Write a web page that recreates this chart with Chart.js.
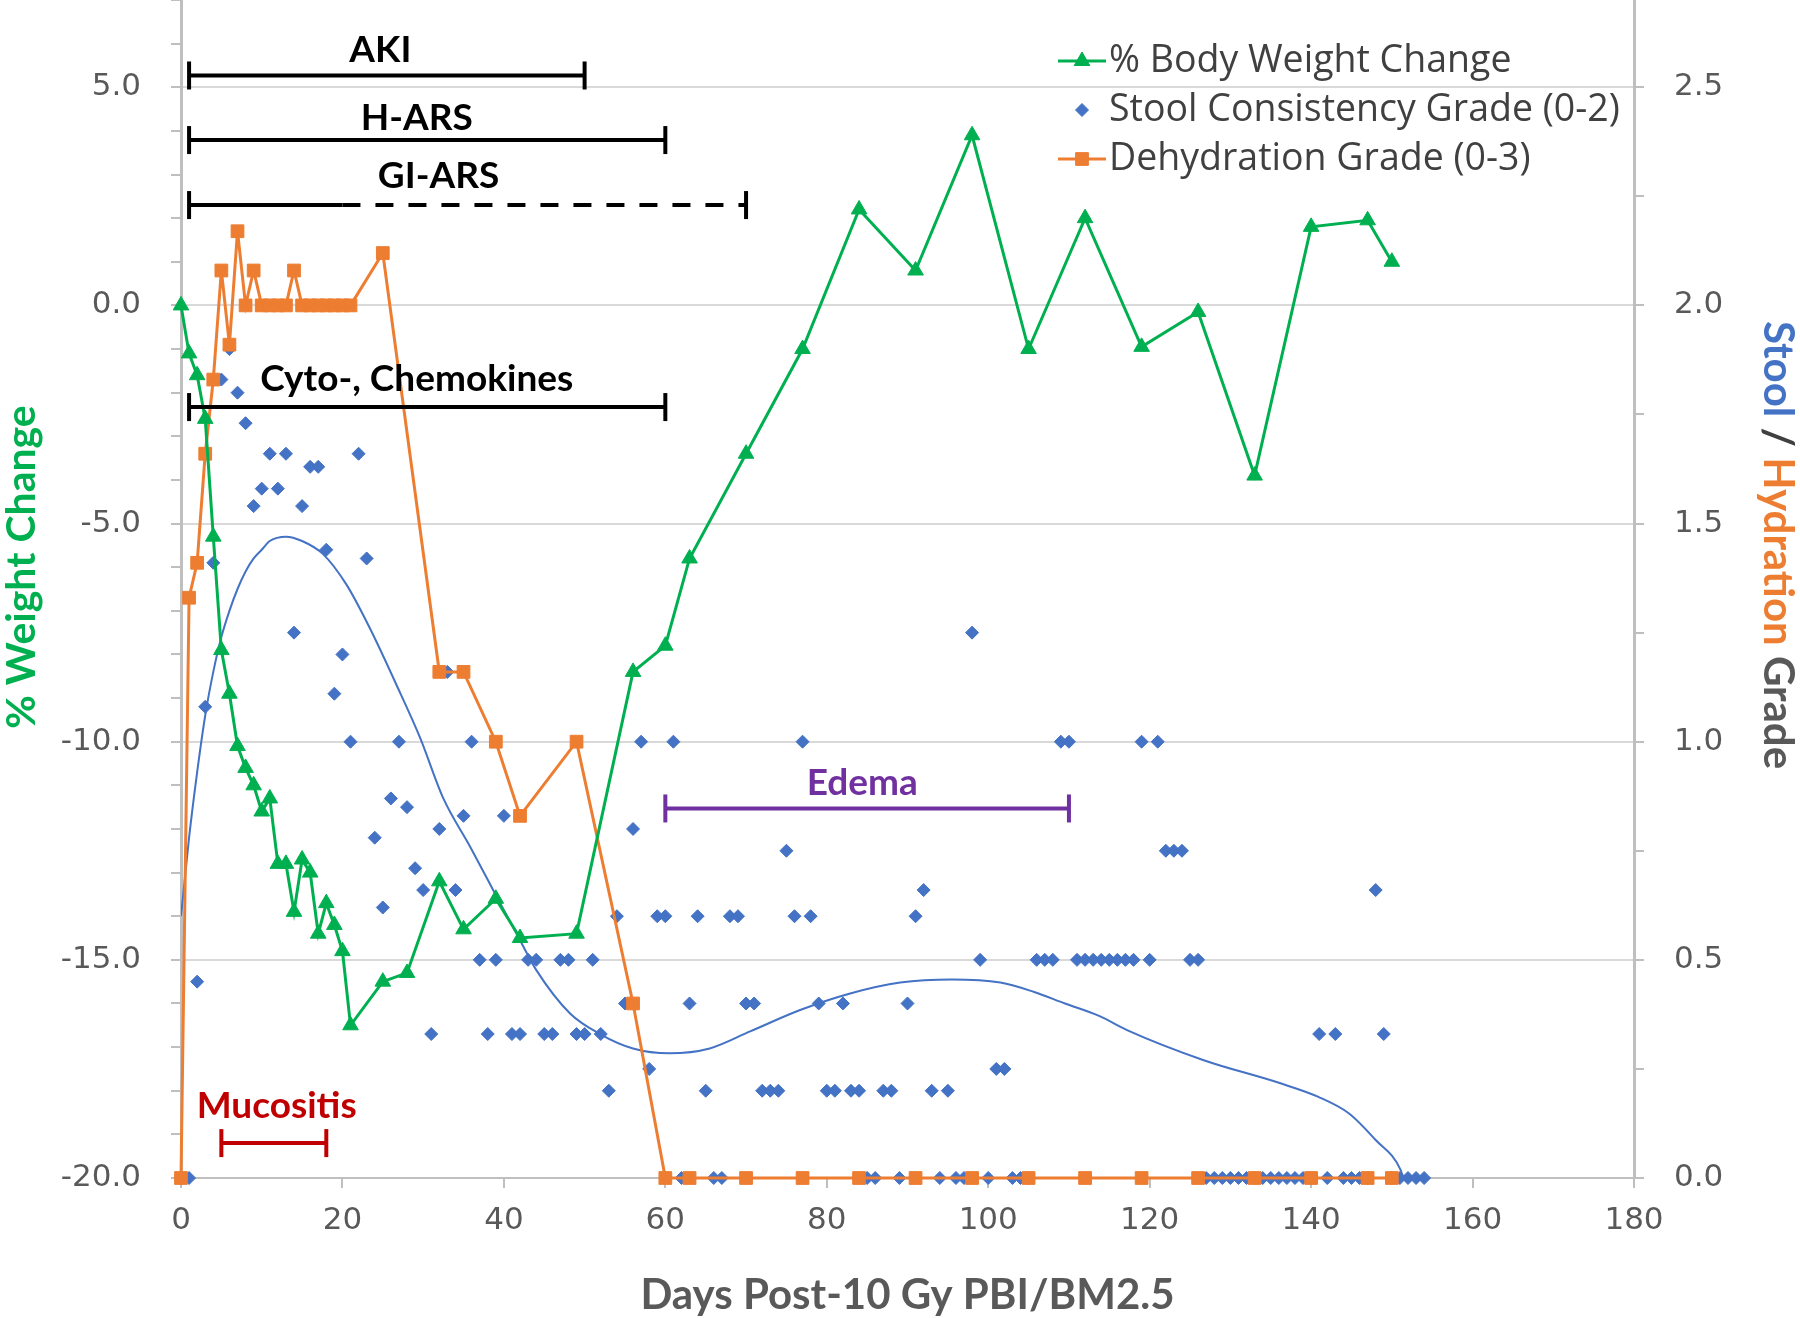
<!DOCTYPE html>
<html>
<head>
<meta charset="utf-8">
<title>Body weight, stool and hydration after 10 Gy PBI/BM2.5</title>
<script src="https://cdn.jsdelivr.net/npm/chart.js@4.4.1/dist/chart.umd.min.js"></script>
<style>
  html, body { margin: 0; padding: 0; background: #ffffff; }
  #appChart { width: 1800px; height: 1318px; position: relative; }
</style>
</head>
<body>
<div id="appChart"><canvas id="myChart"></canvas></div>
<script>
// ---- values ----

// % body weight change (left axis)
const weightDays = [0, 1, 2, 3, 4, 5, 6, 7, 8, 9, 10, 11, 12, 13, 14, 15, 16, 17, 18, 19, 20, 21,
    25, 28, 32, 35, 39, 42, 49, 56, 60, 63, 70, 77, 84, 91, 98, 105, 112, 119, 126, 133, 140, 147, 150];
const weightChange = [0, -1.1, -1.6, -2.6, -5.3, -7.9, -8.9, -10.1, -10.6, -11.0, -11.6, -11.3, -12.8, -12.8, -13.9, -12.7, -13.0, -14.4, -13.7, -14.2, -14.8, -16.5,
    -15.5, -15.3, -13.2, -14.3, -13.6, -14.5, -14.4, -8.4, -7.8, -5.8, -3.4, -1.0, 2.2, 0.8, 3.9, -1.0, 2.0, -0.95, -0.15, -3.9, 1.8, 1.95, 1.0];

// dehydration grade (right axis)
const dehydDays = [0, 1, 2, 3, 4, 5, 6, 7, 8, 9, 10, 11, 12, 13, 14, 15, 16, 17, 18, 19, 20, 21,
    25, 32, 35, 39, 42, 49, 56, 60, 63, 70, 77, 84, 91, 98, 105, 112, 119, 126, 133, 140, 147, 150];
const dehydGrade = [0, 1.33, 1.41, 1.66, 1.83, 2.08, 1.91, 2.17, 2.0, 2.08, 2.0, 2.0, 2.0, 2.0, 2.08, 2.0, 2.0, 2.0, 2.0, 2.0, 2.0, 2.0,
    2.12, 1.16, 1.16, 1.0, 0.83, 1.0, 0.4, 0, 0, 0, 0, 0, 0, 0, 0, 0, 0, 0, 0, 0, 0, 0];

// stool consistency grade, one value per day, first entry = day 0 (right axis)
const stoolGrade = [
    0, 0, 0.45, 1.08, 1.41, 1.83, 1.90, 1.80, 1.73, 1.54,          // 0-9
    1.58, 1.66, 1.58, 1.66, 1.25, 1.54, 1.63, 1.63, 1.44, 1.11,    // 10-19
    1.20, 1.00, 1.66, 1.42, 0.78, 0.62, 0.87, 1.00, 0.85, 0.71,    // 20-29
    0.66, 0.33, 0.80, 1.16, 0.66, 0.83, 1.00, 0.50, 0.33, 0.50,    // 30-39
    0.83, 0.33, 0.33, 0.50, 0.50, 0.33, 0.33, 0.50, 0.50, 0.33,    // 40-49
    0.33, 0.50, 0.33, 0.20, 0.60, 0.40, 0.80, 1.00, 0.25, 0.60,    // 50-59
    0.60, 1.00, 0, 0.40, 0.60, 0.20, 0, 0, 0.60, 0.60,             // 60-69
    0.40, 0.40, 0.20, 0.20, 0.20, 0.75, 0.60, 1.00, 0.60, 0.40,    // 70-79
    0.20, 0.20, 0.40, 0.20, 0.20, 0, 0, 0.20, 0.20, 0,             // 80-89
    0.40, 0.60, 0.66, 0.20, 0, 0.20, 0, 0, 1.25, 0.50,             // 90-99
    0, 0.25, 0.25, 0, 0, 0, 0.50, 0.50, 0.50, 1.00,                // 100-109
    1.00, 0.50, 0.50, 0.50, 0.50, 0.50, 0.50, 0.50, 0.50, 1.00,    // 110-119
    0.50, 1.00, 0.75, 0.75, 0.75, 0.50, 0.50, 0, 0, 0,             // 120-129
    0, 0, 0, 0, 0, 0, 0, 0, 0, 0,                                  // 130-139
    0, 0.33, 0, 0.33, 0, 0, 0, 0, 0.66, 0.33,                      // 140-149
    0, 0, 0, 0, 0                                                  // 150-154
];

// trend curve through the stool grades (right axis)
const trendDays = [0, 1, 2, 3, 4, 5, 6, 7, 8, 9, 10, 11, 13, 15, 17.6, 20.5, 23.4, 26.7, 29.6, 32.5, 35.8, 39.1, 42, 44, 48.2,
    51.9, 56, 60.5, 65.5, 70.5, 76.7, 82.9, 89.1, 95.5, 101.5, 105.6, 109.5, 113.8, 117.2, 126.7, 136.2, 140.9, 144.7, 148, 151.1, 151.4];
const trendGrade = [0.6, 0.78, 0.93, 1.06, 1.16, 1.24, 1.30, 1.35, 1.39, 1.42, 1.44, 1.46, 1.47, 1.46, 1.43, 1.36, 1.26, 1.13, 1.01, 0.87, 0.76, 0.645, 0.545, 0.477, 0.377,
    0.33, 0.297, 0.286, 0.297, 0.336, 0.385, 0.423, 0.448, 0.455, 0.448, 0.427, 0.40, 0.371, 0.339, 0.27, 0.217, 0.186, 0.148, 0.087, 0.018, 0];

// phase bars (days, left axis units)
const phaseNames = ['AKI', 'H-ARS', 'GI-ARS', 'Cyto-, Chemokines', 'Edema', 'Mucositis'];
const phaseStart = [1, 1, 1, 1, 60, 5];
const phaseEnd = [50, 60, 70, 60, 110, 18];
const phaseDashFrom = [null, null, 20, null, null, null];
const phaseLevel = [5.27, 3.79, 2.30, -2.33, -11.53, -19.2];
const phaseLabelDay = [24.7, 29.2, 31.9, 29.2, 84.4, 11.85];

// axis ticks
const dayTicks = [0, 20, 40, 60, 80, 100, 120, 140, 160, 180];
const weightMajorTicks = [-20, -15, -10, -5, 0, 5];
const gradeMajorTicks = [0, 0.5, 1, 1.5, 2, 2.5];

// ---- styles ----
const GREEN = '#00B050';
const ORANGE = '#ED7D31';
const BLUE = '#4472C4';
const GRID = '#D9D9D9';
const AXIS = '#BFBFBF';
const TICK_TEXT = '#595959';
const phaseColors = ['#000000', '#000000', '#000000', '#000000', '#7030A0', '#C00000'];
const phaseLabelGap = [13, 10, 17, 16, 13, 25];
const legendOrder = ['% Body Weight Change', 'Stool Consistency Grade (0-2)', 'Dehydration Grade (0-3)'];

function pairUp(xs, ys) {
    return xs.map(function (x, i) { return { x: x, y: ys[i] }; });
}

// minor tick lists (every 1 % on the left, every 0.25 grade on the right)
let weightTickList = [];
for (let v = -20; v <= 7; v++) weightTickList.push(v);
let gradeTickList = [];
for (let k = 0; k <= 10; k++) gradeTickList.push(k * 0.25);

function isMajor(list, v) {
    return list.some(function (m) { return Math.abs(m - v) < 1e-9; });
}

// ---- datasets ----
let datasets = [];

phaseNames.forEach(function (name, i) {
    const c = phaseColors[i];
    const lvl = phaseLevel[i];
    const base = {
        yAxisID: 'y', showLine: true, borderColor: c, backgroundColor: c, borderWidth: 4,
        pointStyle: 'line', pointRotation: 90, pointBorderColor: c, pointBorderWidth: 4,
        clip: false, order: 0
    };
    if (phaseDashFrom[i] === null) {
        datasets.push(Object.assign({}, base, {
            label: name,
            data: [{ x: phaseStart[i], y: lvl }, { x: phaseEnd[i], y: lvl }],
            pointRadius: 14
        }));
    } else {
        datasets.push(Object.assign({}, base, {
            label: name,
            data: [{ x: phaseStart[i], y: lvl }, { x: phaseDashFrom[i], y: lvl }],
            pointRadius: [14, 0]
        }));
        datasets.push(Object.assign({}, base, {
            label: name + ' (uncertain)',
            data: [{ x: phaseDashFrom[i], y: lvl }, { x: phaseEnd[i], y: lvl }],
            pointRadius: [0, 14],
            borderDash: [18, 15]
        }));
    }
});

datasets.push({
    label: '% Body Weight Change',
    data: pairUp(weightDays, weightChange),
    yAxisID: 'y', showLine: true,
    borderColor: GREEN, backgroundColor: GREEN, borderWidth: 3,
    pointStyle: 'triangle', pointRadius: 9, pointBorderWidth: 1,
    pointBackgroundColor: GREEN, pointBorderColor: GREEN,
    clip: false, order: 1
});

datasets.push({
    label: 'Dehydration Grade (0-3)',
    data: pairUp(dehydDays, dehydGrade),
    yAxisID: 'y2', showLine: true,
    borderColor: ORANGE, backgroundColor: ORANGE, borderWidth: 3,
    pointStyle: 'rect', pointRadius: 9, pointBorderWidth: 1,
    pointBackgroundColor: ORANGE, pointBorderColor: ORANGE,
    clip: false, order: 2
});

datasets.push({
    label: 'Stool Consistency Grade (0-2)',
    data: stoolGrade.map(function (g, day) { return { x: day, y: g }; }),
    yAxisID: 'y2', showLine: false,
    borderColor: BLUE, backgroundColor: BLUE,
    pointStyle: 'rectRot', pointRadius: 6.5, pointBorderWidth: 1,
    pointBackgroundColor: BLUE, pointBorderColor: BLUE,
    clip: false, order: 3
});

datasets.push({
    label: 'Stool trend',
    data: pairUp(trendDays, trendGrade),
    yAxisID: 'y2', showLine: true,
    borderColor: BLUE, borderWidth: 2, pointRadius: 0,
    cubicInterpolationMode: 'monotone',
    order: 4
});

// ---- labels, legend and axis titles drawn on the canvas ----
const notesPlugin = {
    id: 'notes',
    afterDatasetsDraw: function (chart) {
        const ctx = chart.ctx;
        const xs = chart.scales.x;
        const ys = chart.scales.y;
        ctx.save();
        ctx.font = 'bold 37px Lato';
        ctx.textAlign = 'center';
        ctx.textBaseline = 'alphabetic';
        phaseNames.forEach(function (name, i) {
            ctx.fillStyle = phaseColors[i];
            ctx.fillText(name, xs.getPixelForValue(phaseLabelDay[i]), ys.getPixelForValue(phaseLevel[i]) - phaseLabelGap[i]);
        });
        ctx.restore();
    },
    afterDraw: function (chart) {
        const ctx = chart.ctx;
        const area = chart.chartArea;
        const mid = (area.top + area.bottom) / 2;

        // legend (inside the plot, top right)
        const x0 = area.right - 576;
        ctx.save();
        legendOrder.forEach(function (label, row) {
            const ds = chart.data.datasets.find(function (d) { return d.label === label; });
            const y = area.top + 61 + row * 49;
            if (ds.showLine) {
                ctx.strokeStyle = ds.borderColor;
                ctx.lineWidth = ds.borderWidth;
                ctx.beginPath();
                ctx.moveTo(x0, y);
                ctx.lineTo(x0 + 48, y);
                ctx.stroke();
            }
            ctx.fillStyle = ds.pointBackgroundColor;
            ctx.strokeStyle = ds.pointBorderColor;
            ctx.lineWidth = 1;
            Chart.helpers.drawPoint(ctx, { pointStyle: ds.pointStyle, radius: ds.pointRadius, rotation: 0, borderWidth: 1 }, x0 + 24, y);
            ctx.fillStyle = '#404040';
            ctx.font = '37.5px "Open Sans"';
            ctx.textAlign = 'left';
            ctx.textBaseline = 'middle';
            ctx.fillText(label, x0 + 51, y);
        });
        ctx.restore();

        // left title
        ctx.save();
        ctx.translate(chart.scales.y.left + 22, mid - 22);
        ctx.rotate(-Math.PI / 2);
        ctx.font = 'bold 41px Lato';
        ctx.fillStyle = GREEN;
        ctx.textAlign = 'center';
        ctx.textBaseline = 'middle';
        ctx.fillText('% Weight Change', 0, 0);
        ctx.restore();

        // right title, coloured by series
        const parts = [['Stool', BLUE], [' / ', '#404040'], ['Hydration', ORANGE], [' Grade', TICK_TEXT]];
        ctx.save();
        ctx.translate(chart.scales.y2.right - 22, mid - 44);
        ctx.rotate(Math.PI / 2);
        ctx.font = 'bold 42px Lato';
        ctx.textAlign = 'left';
        ctx.textBaseline = 'middle';
        let total = 0;
        parts.forEach(function (p) { total += ctx.measureText(p[0]).width; });
        let cx = -total / 2;
        parts.forEach(function (p) {
            ctx.fillStyle = p[1];
            ctx.fillText(p[0], cx, 0);
            cx += ctx.measureText(p[0]).width;
        });
        ctx.restore();
    }
};

// axis boxes sized to match the figure, with no extra label padding
function fitLeft(axis) { axis.width = 181; axis.paddingTop = 0; axis.paddingBottom = 0; }
function fitRight(axis) { axis.width = 166; axis.paddingTop = 0; axis.paddingBottom = 0; }
function fitBottom(axis) { axis.height = 140; axis.paddingLeft = 0; axis.paddingRight = 0; }

Chart.defaults.font.family = '"DejaVu Sans", sans-serif';

let ctx = document.getElementById('myChart');
let myChart = new Chart(ctx, {
    type: 'scatter',
    data: { datasets: datasets },
    plugins: [notesPlugin],
    options: {
        responsive: true,
        maintainAspectRatio: false,
        animation: false,
        events: [],
        layout: { padding: 0, autoPadding: false },
        plugins: {
            legend: { display: false },
            tooltip: { enabled: false }
        },
        scales: {
            x: {
                type: 'linear',
                min: dayTicks[0],
                max: dayTicks[dayTicks.length - 1],
                afterBuildTicks: function (axis) {
                    axis.ticks = dayTicks.map(function (v) { return { value: v }; });
                },
                afterFit: fitBottom,
                ticks: { color: TICK_TEXT, font: { size: 31 }, padding: 14, autoSkip: false, maxRotation: 0 },
                grid: { drawOnChartArea: false, tickLength: 10, tickColor: AXIS, lineWidth: 2 },
                border: { color: AXIS, width: 2 },
                title: {
                    display: true,
                    text: 'Days Post-10 Gy PBI/BM2.5',
                    color: TICK_TEXT,
                    font: { family: 'Lato', weight: 'bold', size: 42, lineHeight: 1 },
                    padding: { top: 0, bottom: 2 }
                }
            },
            y: {
                type: 'linear',
                position: 'left',
                min: -20,
                max: 7,
                afterBuildTicks: function (axis) {
                    axis.ticks = weightTickList.map(function (v) { return { value: v }; });
                },
                afterFit: fitLeft,
                ticks: {
                    color: TICK_TEXT, font: { size: 31 }, padding: 30, autoSkip: false,
                    callback: function (value) { return isMajor(weightMajorTicks, value) ? value.toFixed(1) : ''; }
                },
                grid: {
                    tickLength: 10, tickColor: AXIS, lineWidth: 2,
                    color: function (c) { return isMajor(weightMajorTicks, c.tick.value) ? GRID : 'rgba(0,0,0,0)'; }
                },
                border: { color: AXIS, width: 3 }
            },
            y2: {
                type: 'linear',
                position: 'right',
                min: 0,
                max: 2.7,
                afterBuildTicks: function (axis) {
                    axis.ticks = gradeTickList.map(function (v) { return { value: v }; });
                },
                afterFit: fitRight,
                ticks: {
                    color: TICK_TEXT, font: { size: 31 }, padding: 30, autoSkip: false,
                    callback: function (value) { return isMajor(gradeMajorTicks, value) ? value.toFixed(1) : ''; }
                },
                grid: { drawOnChartArea: false, tickLength: 10, tickColor: AXIS, lineWidth: 2 },
                border: { color: AXIS, width: 3 }
            }
        }
    }
});
</script>
</body>
</html>
